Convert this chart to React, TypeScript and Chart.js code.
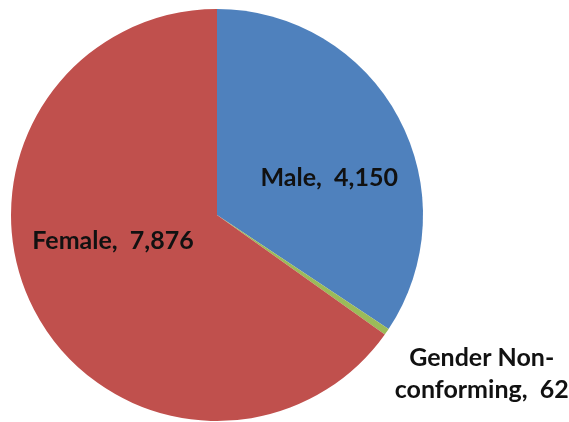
import React, { useEffect, useRef } from "react";
import { Chart, registerables } from "chart.js";

Chart.register(...registerables);

const categories = ["Male", "Gender Non-conforming", "Female"];
const values = [4150, 62, 7876];
const colors = ["#4F81BD", "#9BBB59", "#C0504D"];

// label text lines per category
const labelLines = [["Male,  4,150"], ["Gender Non-", "conforming,  62"], ["Female,  7,876"]];
// label anchor relative to pie centre, in units of the radius
const labelAnchors = [
  [0.545, -0.18],
  [1.285, 0.77],
  [-0.505, 0.125],
];

const labelPlugin = {
  id: "sliceLabels",
  afterDatasetsDraw(chart: any) {
    const ctx = chart.ctx;
    const meta = chart.getDatasetMeta(0);
    ctx.save();
    ctx.fillStyle = "#111";
    ctx.font = "bold 25px Lato";
    ctx.textAlign = "center";
    ctx.textBaseline = "middle";
    meta.data.forEach((arc: any, i: number) => {
      const { x, y, outerRadius } = arc.getProps(["x", "y", "outerRadius"], true);
      const [fx, fy] = labelAnchors[i];
      const cx = x + fx * outerRadius;
      const cy = y + fy * outerRadius;
      const lines = labelLines[i];
      const lh = 32;
      lines.forEach((t, k) => {
        ctx.fillText(t, cx, cy + (k - (lines.length - 1) / 2) * lh);
      });
    });
    ctx.restore();
  },
};

export default function App() {
  const ref = useRef<HTMLCanvasElement | null>(null);
  useEffect(() => {
    if (!ref.current) return;
    const chart = new Chart(ref.current, {
      type: "pie",
      data: {
        labels: categories,
        datasets: [
          {
            data: values,
            backgroundColor: colors,
            borderWidth: 0,
          },
        ],
      },
      options: {
        responsive: false,
        animation: false,
        layout: { padding: { left: 11, top: 9, right: 146, bottom: 1 } },
        plugins: {
          legend: { display: false },
          tooltip: { enabled: false },
        },
      },
      plugins: [labelPlugin],
    });
    return () => chart.destroy();
  }, []);
  return (
    <div style={{ position: "absolute", left: 0, top: 0, width: 569, height: 422, background: "#fff" }}>
      <canvas ref={ref} width={569} height={422} style={{ display: "block" }} />
    </div>
  );
}
